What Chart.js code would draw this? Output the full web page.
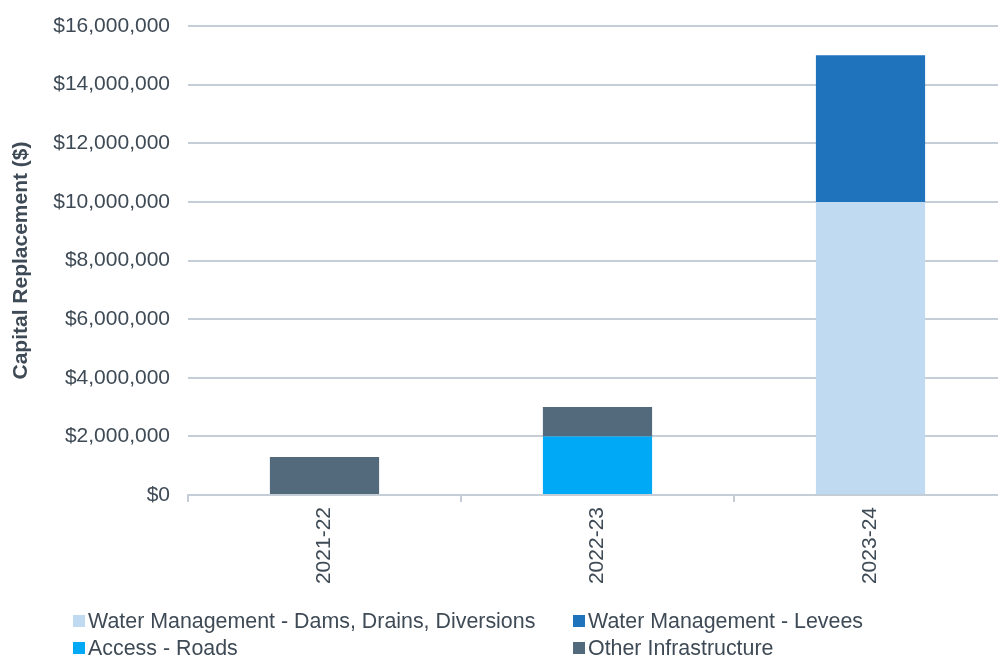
<!DOCTYPE html>
<html>
<head>
<meta charset="utf-8">
<script src="https://cdn.jsdelivr.net/npm/chart.js@4"></script>
<style>
  html, body { margin: 0; padding: 0; background: #fff; overflow: hidden; }
  #wrap { width: 1008px; height: 657px; }
</style>
</head>
<body>
<div id="wrap"><canvas id="capChart" width="1008" height="657"></canvas></div>
<script>
// chart data
var years = ["2021-22", "2022-23", "2023-24"];
var damsDrains = [null, null, 10000000];
var accessRoads = [null, 2000000, null];
var levees = [null, null, 5000000];
var otherInfra = [1300000, 1000000, null];
var yTicks = [0, 2000000, 4000000, 6000000, 8000000, 10000000, 12000000, 14000000, 16000000];

var textColor = '#3e4a55';
var gridColor = '#c5ced6';
var fontFamily = '"Liberation Sans", Arial, sans-serif';

// legend is laid out like the Excel one: two columns, read row by row
var legendPlugin = {
  id: 'twoColLegend',
  afterDraw: function (chart) {
    var ctx = chart.ctx;
    var sets = chart.data.datasets;
    var order = [0, 2, 1, 3]; // dams, levees / access, other
    var colX = [73, 573];
    var rowY = [621, 648];
    ctx.save();
    ctx.font = '21.4px ' + fontFamily;
    ctx.textBaseline = 'middle';
    ctx.textAlign = 'left';
    for (var i = 0; i < order.length; i++) {
      var ds = sets[order[i]];
      var x = colX[i % 2];
      var y = rowY[Math.floor(i / 2)];
      ctx.fillStyle = ds.backgroundColor;
      ctx.fillRect(x, y - 6, 12, 12);
      ctx.fillStyle = textColor;
      ctx.fillText(ds.label, x + 15, y + 1);
    }
    ctx.restore();
  }
};

var ctx = document.getElementById('capChart').getContext('2d');
var chart = new Chart(ctx, {
  type: 'bar',
  data: {
    labels: years,
    datasets: [
      { label: 'Water Management - Dams, Drains, Diversions', data: damsDrains, backgroundColor: '#bfdaf1' },
      { label: 'Access - Roads', data: accessRoads, backgroundColor: '#00a9f5' },
      { label: 'Water Management - Levees', data: levees, backgroundColor: '#1e73bc' },
      { label: 'Other Infrastructure', data: otherInfra, backgroundColor: '#53697c' }
    ]
  },
  options: {
    responsive: false,
    animation: false,
    layout: { padding: { top: 26, bottom: 62, left: 0, right: 1 } },
    datasets: { bar: { categoryPercentage: 1, barPercentage: 0.4 } },
    plugins: {
      legend: { display: false },
      tooltip: { enabled: false }
    },
    scales: {
      x: {
        stacked: true,
        offset: true,
        grid: { offset: true, drawOnChartArea: false, color: gridColor, tickLength: 7, lineWidth: 2 },
        border: { color: gridColor, width: 2 },
        ticks: {
          color: textColor,
          font: { family: fontFamily, size: 21 },
          minRotation: 90,
          maxRotation: 90,
          padding: 5
        },
        afterFit: function (scale) {
          scale.height = 100;
          scale.paddingLeft = 0;
          scale.paddingRight = 0;
        }
      },
      y: {
        stacked: true,
        min: 0,
        max: 16000000,
        grid: { color: gridColor, drawTicks: false, lineWidth: 2 },
        border: { display: false },
        afterBuildTicks: function (scale) {
          scale.ticks = yTicks.map(function (v) { return { value: v }; });
        },
        ticks: {
          color: textColor,
          font: { family: fontFamily, size: 21 },
          padding: 18,
          callback: function (v) { return '$' + Number(v).toLocaleString('en-US'); }
        },
        title: {
          display: true,
          text: 'Capital Replacement ($)',
          color: textColor,
          font: { family: fontFamily, size: 21, weight: 'bold' },
          padding: { top: 9, bottom: 0 }
        },
        afterFit: function (scale) {
          scale.width = 188;
          scale.paddingTop = 0;
          scale.paddingBottom = 0;
        }
      }
    }
  },
  plugins: [legendPlugin]
});
</script>
</body>
</html>
